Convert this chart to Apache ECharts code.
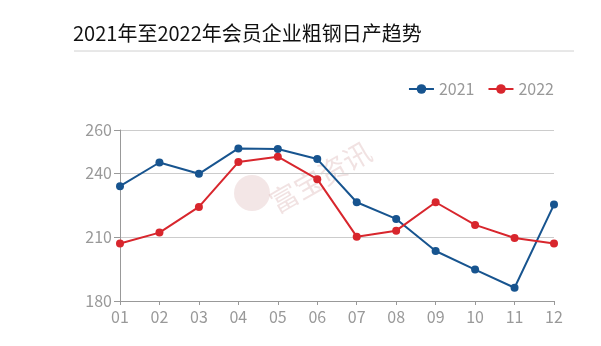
<!DOCTYPE html>
<html><head><meta charset="utf-8">
<script src="https://cdn.jsdelivr.net/npm/echarts@6/dist/echarts.min.js"></script>
<style>html,body{margin:0;padding:0;background:#fff}#c{width:601px;height:346px}</style>
</head><body><div id="c"></div>
<script>
const titleText = '2021年至2022年会员企业粗钢日产趋势';
const months = ['01','02','03','04','05','06','07','08','09','10','11','12'];
const s2021 = [233.7, 244.8, 239.5, 251.4, 251.1, 246.4, 226.2, 218.4, 203.4, 194.7, 186.2, 225.1];
const s2022 = [206.9, 212.0, 224.0, 245.0, 247.5, 237.0, 210.1, 212.9, 226.2, 215.6, 209.5, 206.9];
const yTicks = [180, 210, 240, 260];

const font = '"Noto Sans CJK SC", "Noto Sans", sans-serif';
const chart = echarts.init(document.getElementById('c'), null, {renderer: 'canvas'});
chart.setOption({
  animation: false,
  backgroundColor: '#fff',
  title: {
    text: titleText, left: 68, top: 18,
    textStyle: {fontSize: 20, fontWeight: 'normal', color: '#111', fontFamily: font}
  },
  graphic: [
    {type: 'line', shape: {x1: 74, y1: 51, x2: 574, y2: 51}, style: {stroke: '#d0d0d0', lineWidth: 1}, z: 1},
    {type: 'circle', shape: {cx: 252, cy: 193, r: 18}, style: {fill: 'rgba(200,140,140,0.22)'}, z: 0},
    {type: 'text', x: 272, y: 205, rotation: Math.PI / 6, originX: 0, originY: 0,
     style: {text: '富宝资讯', fill: 'rgba(200,140,140,0.25)', font: '28px ' + font, textAlign: 'left', textVerticalAlign: 'middle'}, z: 0}
  ],
  legend: {
    right: 42, top: 76, itemWidth: 25, itemHeight: 12, itemGap: 13,
    textStyle: {color: '#999', fontSize: 16, fontFamily: font},
    data: ['2021', '2022']
  },
  grid: {left: 120, right: 47, top: 130, bottom: 45},
  xAxis: {
    type: 'category', data: months, boundaryGap: false,
    axisLine: {lineStyle: {color: '#999'}},
    axisTick: {show: true, length: 4, lineStyle: {color: '#999'}},
    axisLabel: {color: '#999', fontSize: 16, margin: 8, fontFamily: font}
  },
  yAxis: {
    type: 'value', min: yTicks[0], max: yTicks[yTicks.length - 1], interval: 30,
    axisLine: {show: true, lineStyle: {color: '#999'}},
    axisTick: {show: true, length: 6, lineStyle: {color: '#999'}},
    axisLabel: {color: '#999', fontSize: 16, margin: 8, fontFamily: font},
    splitLine: {lineStyle: {color: '#ccc'}}
  },
  series: [
    {name: '2021', type: 'line', data: s2021, symbol: 'circle', symbolSize: 8,
     itemStyle: {color: '#17548f'}, lineStyle: {width: 2, color: '#17548f'}},
    {name: '2022', type: 'line', data: s2022, symbol: 'circle', symbolSize: 8,
     itemStyle: {color: '#d8262d'}, lineStyle: {width: 2, color: '#d8262d'}}
  ]
});
</script></body></html>
